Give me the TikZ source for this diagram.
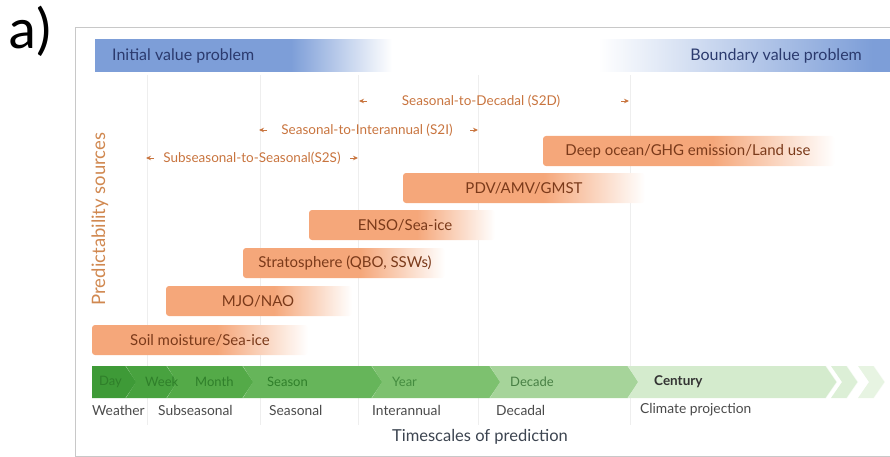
\documentclass[tikz,border=0pt]{standalone}
\usepackage{fontspec}
\setmainfont{Lato}
\newfontfamily\panelfont{Carlito}
\usetikzlibrary{positioning, arrows.meta}

\definecolor{framegray}{HTML}{C8C8C8}
\definecolor{gridgray}{HTML}{EEEEEE}
\definecolor{ivblue}{HTML}{7D9ED8}
\definecolor{bluetext}{HTML}{2B3A6E}
\definecolor{rangeorange}{HTML}{C8743E}
\definecolor{srcorange}{HTML}{F5A77A}
\definecolor{srctextc}{HTML}{7B3A1A}
\definecolor{axisorange}{HTML}{D08850}
\definecolor{scalegray}{HTML}{4A4A4A}
\definecolor{titlegray}{HTML}{3C4450}
\definecolor{dayg}{HTML}{3E9A37}
\definecolor{weekg}{HTML}{48A23F}
\definecolor{monthg}{HTML}{54AA48}
\definecolor{seasong}{HTML}{66B55A}
\definecolor{yearg}{HTML}{7DC16F}
\definecolor{decadeg}{HTML}{A6D49A}
\definecolor{centuryg}{HTML}{D4EBCD}
\definecolor{moreg}{HTML}{DCEFD6}
\definecolor{segtext}{HTML}{2F7F2A}

% Bars that stay solid and then fade out to white
\pgfdeclarehorizontalshading{orangefade}{100bp}{color(0bp)=(srcorange); color(25bp)=(srcorange);
    color(54bp)=(srcorange); color(75bp)=(white); color(100bp)=(white)}
\pgfdeclarehorizontalshading{bluefadeout}{100bp}{color(0bp)=(ivblue); color(25bp)=(ivblue);
    color(58bp)=(ivblue); color(75bp)=(white); color(100bp)=(white)}
\pgfdeclarehorizontalshading{bluefadein}{100bp}{color(0bp)=(white); color(25bp)=(white);
    color(72bp)=(ivblue); color(75bp)=(ivblue); color(100bp)=(ivblue)}

\tikzset{
  bluelabel/.style={text=bluetext, font=\fontsize{16}{18}\selectfont, inner sep=0pt},
  rangelabel/.style={text=rangeorange, font=\fontsize{13.5}{15}\selectfont, inner sep=0pt},
  rangearrow/.style={rangeorange, -{Stealth[length=5pt, width=4.5pt]}, line width=0.9pt},
  srclabel/.style={text=srctextc, font=\fontsize{15}{17}\selectfont, inner sep=0pt},
  seglabel/.style={text=segtext, font=\fontsize{13}{15}\selectfont, inner sep=0pt, anchor=west},
  scalelabel/.style={text=scalegray, font=\fontsize{13.8}{15}\selectfont, inner sep=0pt, anchor=west},
  chevline/.style={white, line width=0.9pt, opacity=0.6}
}

\begin{document}
\begin{tikzpicture}[x=1pt, y=-1pt]
    \useasboundingbox (0,0) rectangle (890,457);

    % Panel label and frame
    \node[font=\panelfont\fontsize{58}{58}\selectfont, anchor=west, inner sep=0pt] (panel) at (8,31) {a)};
    \draw[framegray, line width=1pt] (890,28) -- (75,28) -- (75,456) -- (890,456);

    % Faint grid lines between the timescales
    \foreach \x in {147, 260, 358, 478, 630} {
        \draw[gridgray, line width=1pt] (\x,75) -- (\x,425);
    }

    % Initial and boundary value problem
    \shade[shading=bluefadeout] (95,40) rectangle (392,72);
    \shade[shading=bluefadein] (598,40) rectangle (890,72);
    \node[bluelabel, anchor=west] (ivp) at (112,56) {Initial value problem};
    \node[bluelabel, anchor=east] (bvp) at (862,56) {Boundary value problem};

    % Prediction ranges
    \node[rangelabel] (s2d) at (481,101) {Seasonal-to-Decadal (S2D)};
    \node[rangelabel] (s2i) at (367,130) {Seasonal-to-Interannual (S2I)};
    \node[rangelabel] (s2s) at (252,158) {Subseasonal-to-Seasonal(S2S)};
    \coordinate (s2dL) at (359,101);
    \coordinate (s2dR) at (629,101);
    \coordinate (s2iL) at (259,130);
    \coordinate (s2iR) at (478,130);
    \coordinate (s2sL) at (146,158);
    \coordinate (s2sR) at (358,158);
    \foreach \tip in {s2dL, s2iL, s2sL} {
        \draw[rangearrow] ([xshift=8pt]\tip) -- (\tip);
    }
    \foreach \tip in {s2dR, s2iR, s2sR} {
        \draw[rangearrow] ([xshift=-8pt]\tip) -- (\tip);
    }

    % Sources of predictability, fading out to the right
    \foreach \name/\xa/\xc/\yc/\tx/\txt in {
        deep/543/835/151/688/{Deep ocean/GHG emission/Land use},
        pdv/403/645/188/524/{PDV/AMV/GMST},
        enso/309/495/225/405/{ENSO/Sea-ice},
        strat/243/445/263/345/{Stratosphere (QBO, SSWs)},
        mjo/166/352/301/258/{MJO/NAO},
        soil/92/308/340/200/{Soil moisture/Sea-ice}} {
        \shade[shading=orangefade, rounded corners=3pt] (\xa,\yc-15) rectangle (\xc,\yc+15);
        \node[srclabel] (\name) at (\tx,\yc) {\txt};
    }
    \node[text=axisorange, font=\fontsize{18.5}{20}\selectfont, rotate=90, inner sep=0pt] (axis) at (100,219) {Predictability sources};

    % Timescale chevrons
    \foreach \xs/\xe/\n/\col in {92/126/0/dayg, 126/167/10/weekg, 167/243/10/monthg,
        243/372/10/seasong, 372/490/10/yearg, 490/628/10/decadeg, 628/826/10/centuryg,
        831/847/11/moreg, 858/874/11/moreg!70!white} {
        \fill[\col] (\xs,366) -- (\xe,366) -- (\xe+11,382) -- (\xe,398) -- (\xs,398) -- (\xs+\n,382) -- cycle;
        \draw[chevline] (\xe,366) -- (\xe+11,382) -- (\xe,398);
    }
    \node[seglabel] (day) at (99,382) {Day};
    \node[seglabel] (week) at (145,382) {Week};
    \node[seglabel] (month) at (195,382) {Month};
    \node[seglabel] (season) at (267,382) {Season};
    \node[seglabel, text=segtext!90!white] (year) at (392,382) {Year};
    \node[seglabel, text=segtext!70!gray] (decade) at (510,382) {Decade};
    \node[seglabel, text=black!80, font=\bfseries\fontsize{13.5}{15}\selectfont] (century) at (654,382) {Century};

    % Names of the prediction timescales
    \node[scalelabel] (weather) at (92,410) {Weather};
    \node[scalelabel] (subseas) at (158,410) {Subseasonal};
    \node[scalelabel] (seas) at (269,410) {Seasonal};
    \node[scalelabel] (inter) at (372,410) {Interannual};
    \node[scalelabel] (decadal) at (496,410) {Decadal};
    \node[scalelabel] (climate) at (640,410) {Climate projection};
    \node[text=titlegray, font=\fontsize{16.5}{18}\selectfont, inner sep=0pt] (title) at (480,437) {Timescales of prediction};
\end{tikzpicture}
\end{document}
